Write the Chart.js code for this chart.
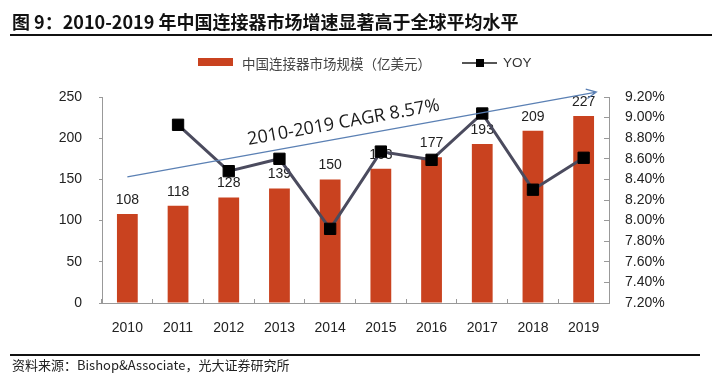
<!DOCTYPE html>
<html><head><meta charset="utf-8">
<script src="https://cdn.jsdelivr.net/npm/chart.js@4/dist/chart.umd.min.js"></script>
<style>
html,body{margin:0;padding:0;width:720px;height:375px;background:#fff;overflow:hidden;}
#c{position:absolute;left:0;top:0;}
.t{position:absolute;white-space:nowrap;}
</style></head><body>
<canvas id="c" width="720" height="375"></canvas>
<div class="t" style="left:12px;top:9px;font:bold 18px 'Noto Sans CJK SC';color:#111;line-height:24px;">图 9：2010-2019 年中国连接器市场增速显著高于全球平均水平</div>
<div class="t" style="left:10px;top:34px;width:702px;height:2px;background:#111;"></div>
<div class="t" style="left:198px;top:58px;width:35px;height:8px;background:#C9421F;"></div>
<div class="t" style="left:242px;top:54px;font:13.5px 'Noto Sans CJK SC';color:#444;line-height:18px;">中国连接器市场规模（亿美元）</div>
<div class="t" style="left:462px;top:61.5px;width:35px;height:2px;background:#555;"></div>
<div class="t" style="left:476px;top:58.5px;width:8px;height:8px;background:#000;"></div>
<div class="t" style="left:503px;top:54px;font:13.5px 'Liberation Sans';color:#333;line-height:18px;">YOY</div>
<div class="t" style="left:10px;top:354px;width:690px;height:2px;background:#111;"></div>
<div class="t" style="left:12px;top:356px;font:13px 'Noto Sans CJK SC';color:#222;line-height:18px;">资料来源：Bishop&amp;Associate，光大证券研究所</div>
<script>
const years = ['2010','2011','2012','2013','2014','2015','2016','2017','2018','2019'];
const marketSize = [108,118,128,139,150,163,177,193,209,227];
const yoyPct = [null,8.93,8.48,8.60,7.92,8.67,8.59,9.04,8.30,8.61];
const leftTicks = [0,50,100,150,200,250];
const rightTicks = [7.2,7.4,7.6,7.8,8.0,8.2,8.4,8.6,8.8,9.0,9.2];
const cagrText = '2010-2019 CAGR 8.57%';
const trendStart = [0, 153];
const trendEnd = [9.25, 256];
const cagrLabelAt = [2.39, 191.7];

const barLabels = {
  id: 'barLabels',
  afterDatasetDraw(chart, args) {
    if (args.index !== 0) return;
    const ctx = chart.ctx; ctx.save();
    ctx.font = '14px "Liberation Sans", Arial';
    ctx.fillStyle = '#222'; ctx.textAlign = 'center'; ctx.textBaseline = 'middle';
    args.meta.data.forEach((el, i) => ctx.fillText(String(marketSize[i]), el.x, el.y - 14));
    ctx.restore();
  }
};
const trend = {
  id: 'trend',
  afterDatasetsDraw(chart) {
    const xs = chart.scales.x, ys = chart.scales.y, ctx = chart.ctx;
    const x0 = xs.getPixelForValue(trendStart[0]), y0 = ys.getPixelForValue(trendStart[1]);
    const x1 = xs.getPixelForValue(trendEnd[0]), y1 = ys.getPixelForValue(trendEnd[1]);
    const ang = Math.atan2(y1 - y0, x1 - x0);
    ctx.save();
    ctx.strokeStyle = '#5b80b4'; ctx.lineWidth = 1.3;
    ctx.beginPath(); ctx.moveTo(x0, y0); ctx.lineTo(x1, y1);
    const h = 11, a = 0.45;
    ctx.moveTo(x1 - h * Math.cos(ang - a), y1 - h * Math.sin(ang - a));
    ctx.lineTo(x1, y1);
    ctx.lineTo(x1 - h * Math.cos(ang + a), y1 - h * Math.sin(ang + a));
    ctx.stroke();
    const tx = xs.getPixelForValue(cagrLabelAt[0]), ty = ys.getPixelForValue(cagrLabelAt[1]);
    ctx.translate(tx, ty); ctx.rotate(ang);
    ctx.font = '18px "Open Sans"'; ctx.fillStyle = '#1a1a1a';
    ctx.textAlign = 'left'; ctx.textBaseline = 'alphabetic';
    ctx.fillText(cagrText, 0, 0);
    ctx.restore();
  }
};

const tickFont = {family: '"Liberation Sans", Arial', size: 14};
new Chart(document.getElementById('c'), {
  data: {
    labels: years,
    datasets: [
      {type: 'bar', label: '中国连接器市场规模（亿美元）', data: marketSize, yAxisID: 'y',
       backgroundColor: '#C9421F', barPercentage: 0.41, categoryPercentage: 1, order: 1},
      {type: 'line', label: 'YOY', data: yoyPct, yAxisID: 'y1', borderColor: '#4b4b5e', borderWidth: 3,
       pointStyle: 'rect', pointRadius: 8, pointHoverRadius: 8, pointBackgroundColor: '#000', pointBorderColor: '#000',
       pointBorderWidth: 1, tension: 0, spanGaps: false, order: 0}
    ]
  },
  options: {
    responsive: false, animation: false, devicePixelRatio: 1,
    layout: {padding: {top: 97, bottom: 32, left: 0, right: 0}},
    plugins: {legend: {display: false}, tooltip: {enabled: false}},
    scales: {
      x: {grid: {display: true, drawOnChartArea: false, tickLength: -4, color: '#999', offset: true},
          border: {color: '#999'}, ticks: {font: tickFont, color: '#222', padding: 21},
          afterFit(s) { s.height = 40; }},
      y: {position: 'left', min: 0, max: 250,
          afterBuildTicks(s) { s.ticks = leftTicks.map(v => ({value: v})); },
          grid: {drawOnChartArea: false, tickLength: 3, color: '#999'}, border: {color: '#999'},
          ticks: {font: tickFont, color: '#222', padding: 17},
          afterFit(s) { s.width = 102; }},
      y1: {position: 'right', min: 7.2, max: 9.2,
          afterBuildTicks(s) { s.ticks = rightTicks.map(v => ({value: v})); },
          grid: {drawOnChartArea: false, tickLength: -5, color: '#999'}, border: {color: '#999'},
          ticks: {font: tickFont, color: '#222', padding: 21, callback: v => v.toFixed(2) + '%'},
          afterFit(s) { s.width = 111; }}
    }
  },
  plugins: [barLabels, trend]
});
</script>
</body></html>
